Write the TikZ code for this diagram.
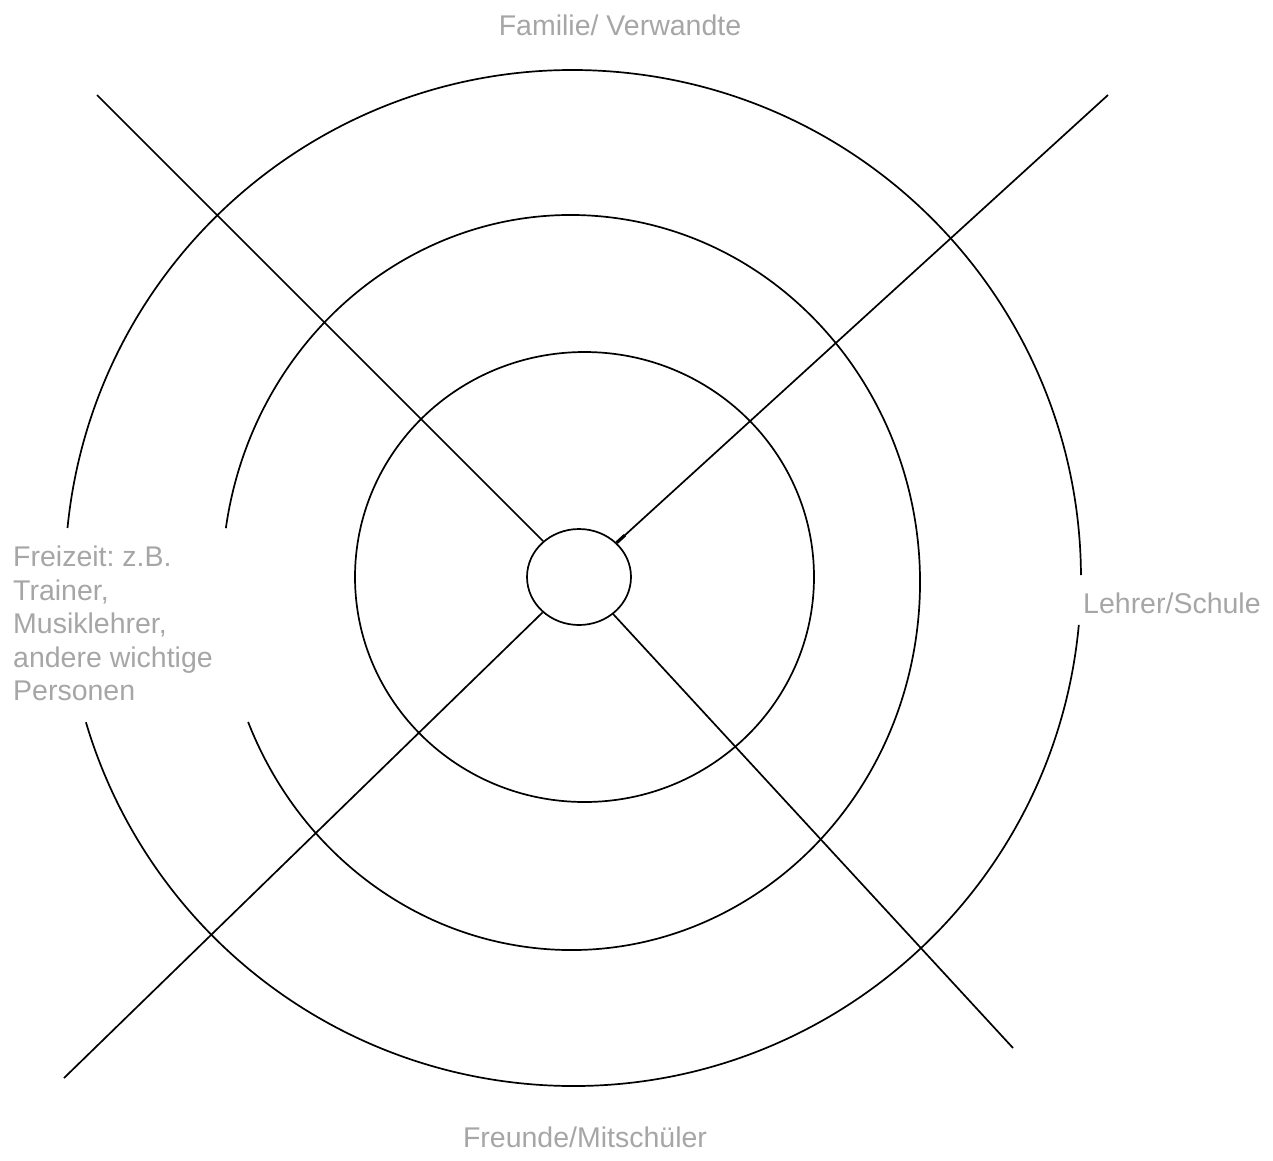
\documentclass[tikz,border=0pt]{standalone}
\usepackage{fontspec}
\setmainfont{Liberation Sans}
\usetikzlibrary{shapes.geometric,calc}
\definecolor{lblgray}{HTML}{A6A6A6}
\frenchspacing
\begin{document}
\begin{tikzpicture}[x=1pt,y=-1pt,
  ring/.style={line width=1.7pt},
  spoke/.style={line width=1.7pt},
  lbl/.style={text=lblgray, font=\fontsize{28.5}{33.5}\selectfont, inner sep=0pt}]
\useasboundingbox (0,0) rectangle (1273,1160);
% outer circle with gaps (left and right)
\draw[ring] (573,578) ++(-174.35:508) arc[start angle=-174.35, end angle=-0.34, radius=508];
\draw[ring] (573,578) ++(5.3:508) arc[start angle=5.3, end angle=163.5, radius=508];
% middle ring with left gap
\draw[ring] ($(571,582.5)+(-171.5:349 and 367.5)$) arc[start angle=-171.5, end angle=157.7, x radius=349, y radius=367.5];
% inner ring
\draw[ring] (584.5,577) ellipse[x radius=229.5, y radius=225];
% centre
\node[ellipse, draw, line width=1.7pt, minimum width=104pt, minimum height=96pt, inner sep=0pt] (c) at (579,577) {};
% spokes
\coordinate (tl) at (97,95);
\coordinate (tr) at (1108,95);
\coordinate (bl) at (64,1078);
\coordinate (br) at (1013,1048);
\draw[spoke] (tl) -- (c);
\draw[spoke] (tr) -- (c);
\draw[spoke] (bl) -- (c);
\draw[spoke] (br) -- (c);
\draw[line width=3.2pt] (c) -- ($(c)!62pt!(tr)$);
% labels
\node[lbl, anchor=base] (fam) at (620,35) {Familie/ Verwandte};
\node[lbl, anchor=base] (fre) at (585,1147) {Freunde/Mitschüler};
\node[lbl, anchor=base west] (leh) at (1083,613) {Lehrer/Schule};
\node[lbl, anchor=north west, align=left] (frz) at (13,546) {Freizeit: z.B.\\Trainer,\\Musiklehrer,\\andere wichtige\\Personen};
\end{tikzpicture}
\end{document}
